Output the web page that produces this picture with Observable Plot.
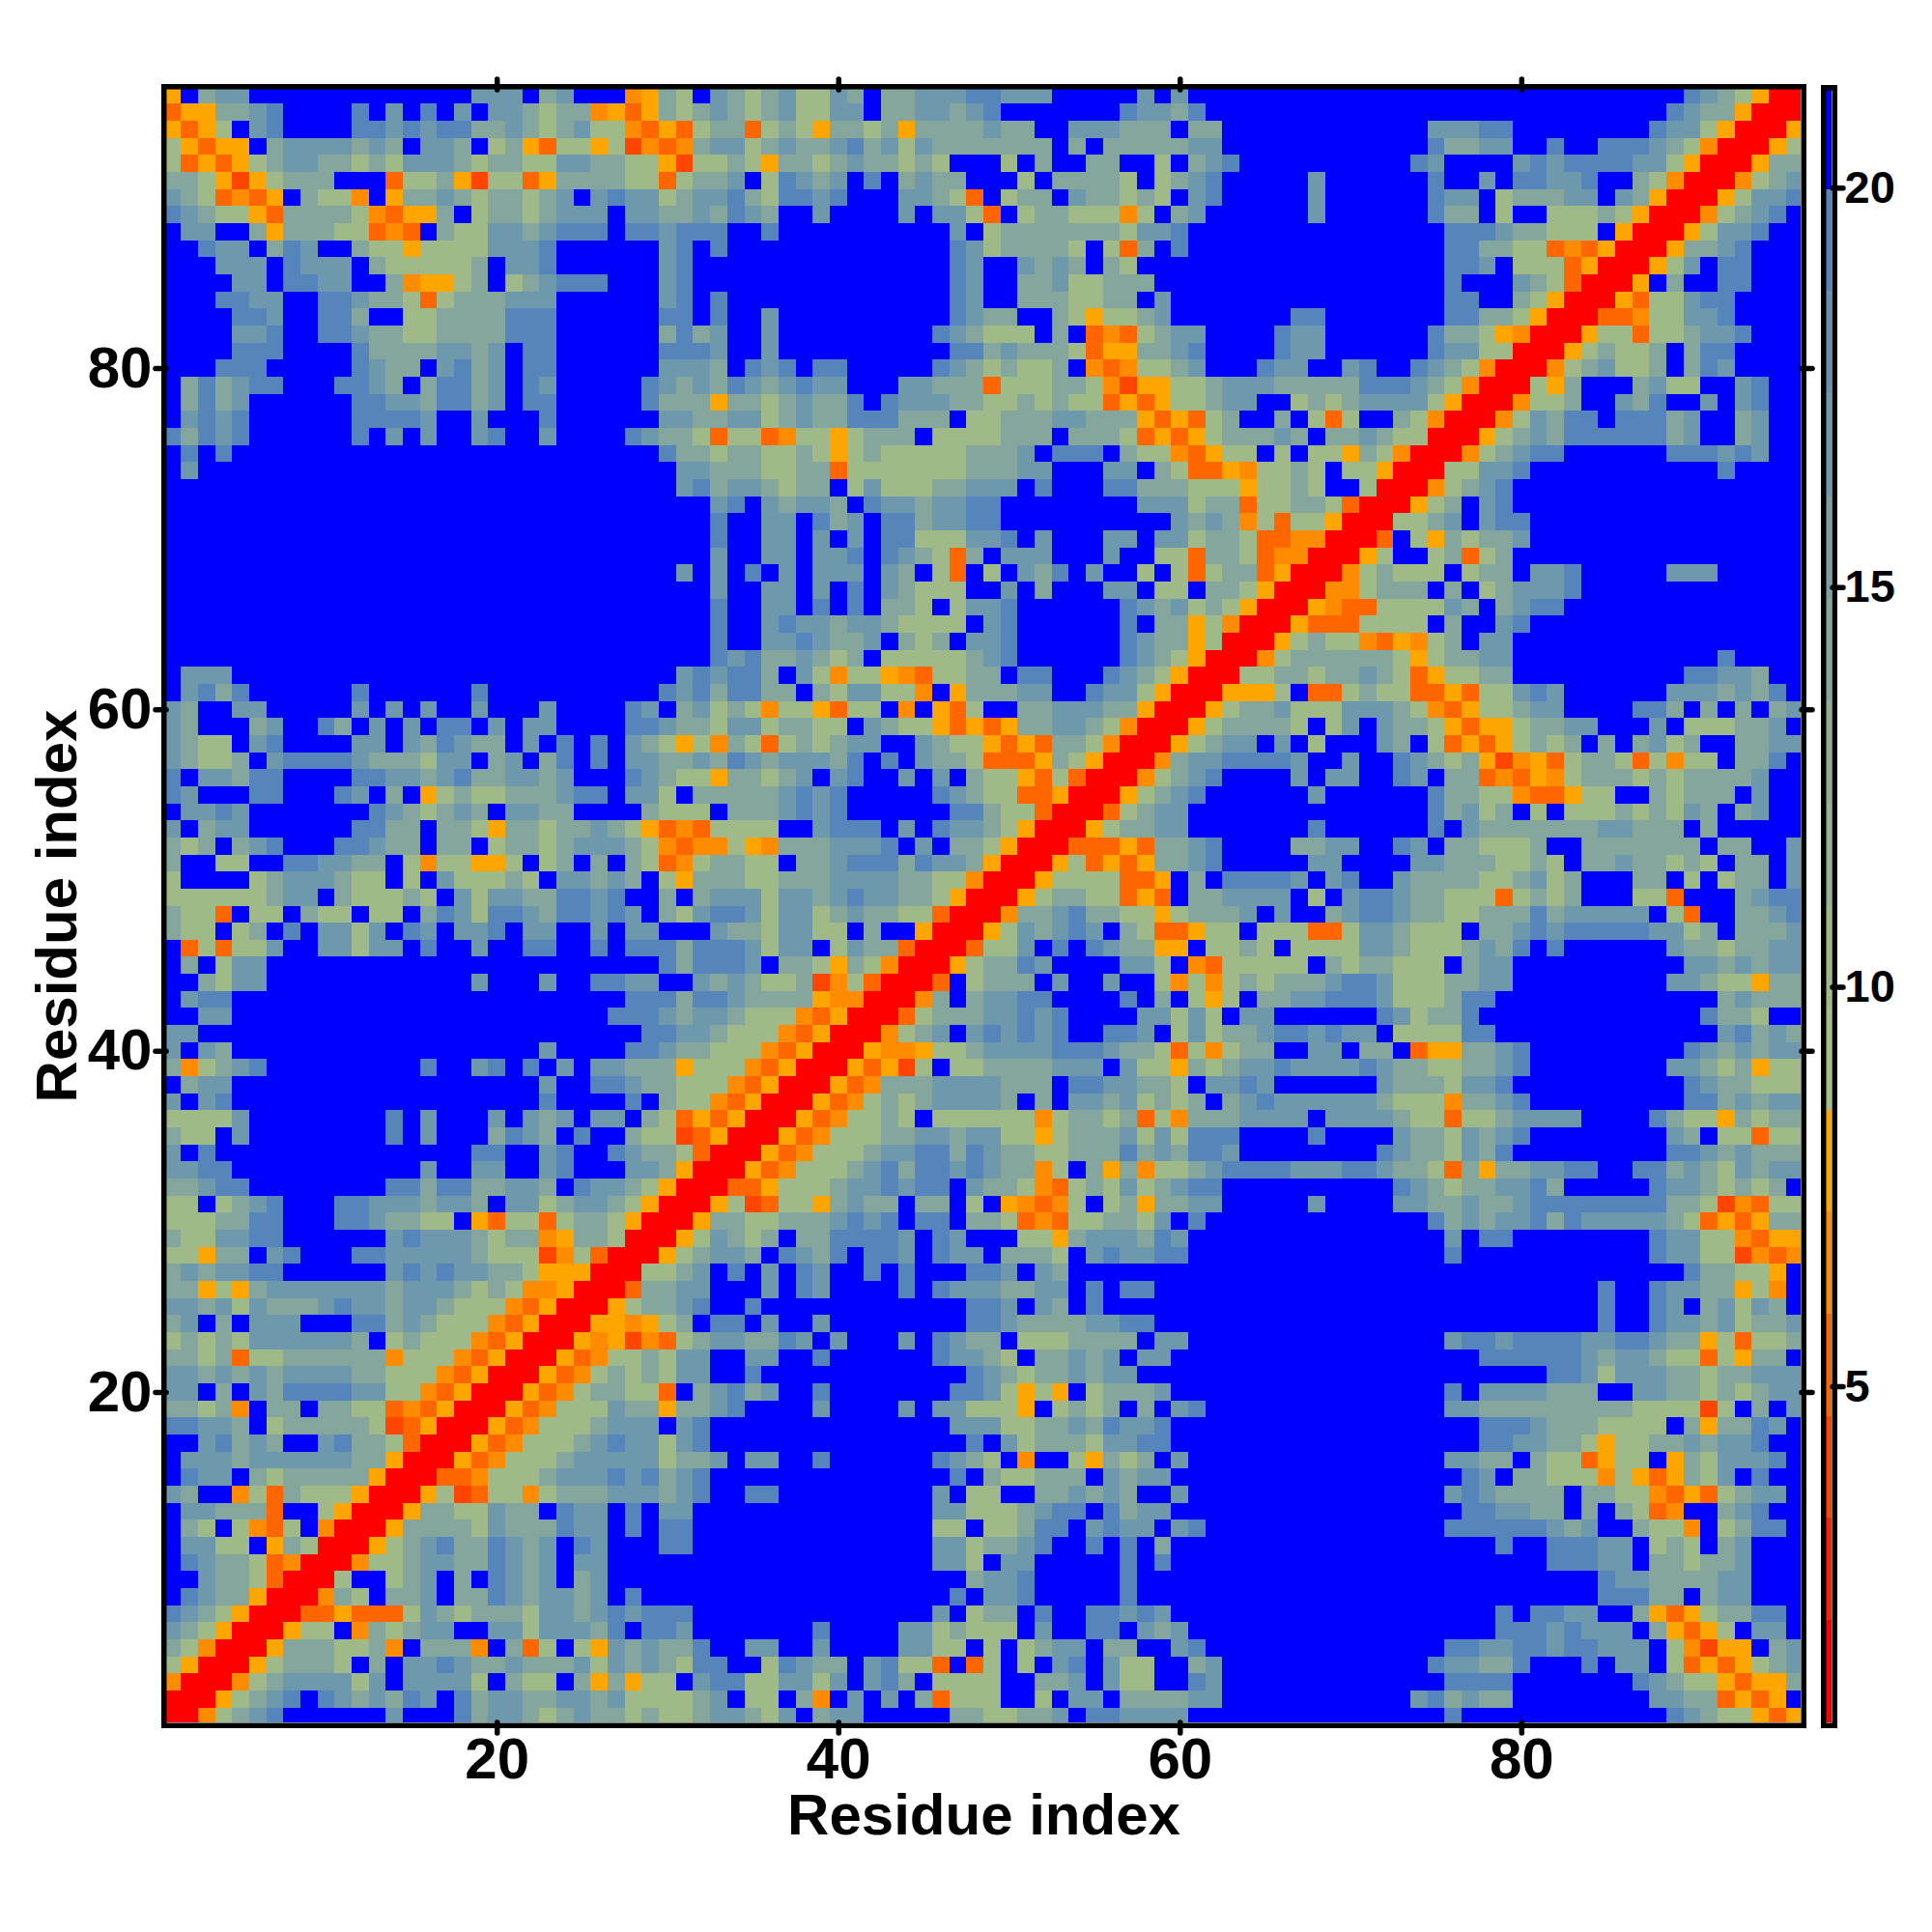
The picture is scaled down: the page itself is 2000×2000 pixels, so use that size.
<!DOCTYPE html>
<html>
<head>
<meta charset="utf-8">
<script src="https://cdn.jsdelivr.net/npm/d3@7"></script>
<script src="https://cdn.jsdelivr.net/npm/@observablehq/plot@0.6"></script>
<style>
html,body{margin:0;padding:0;background:#fff}
#wrap{position:relative;width:2000px;height:2000px}
#wrap svg{position:absolute;left:0;top:0;background:transparent;overflow:visible}
</style>
</head>
<body>
<div id="wrap"></div>
<script>
// Codes: blue gap, four slate-to-sage shades, warm shades.
const codeValues = {".":21, "1":19.3, "2":16.8, "3":13.9, "4":10.3, "o":7.8, "d":6.5, "r":5.2, "f":4, "X":1.4};
const xTicks = [20, 40, 60, 80];
const yTicks = [20, 40, 60, 80];
const barTicks = [5, 10, 15, 20];
const axisLabel = "Residue index";
const bandEdges = [0.77,2.05,3.33,4.6,5.88,7.16,8.44,9.72,11,12.28,13.56,14.84,16.12,17.4,18.68,19.96,21.2];
const colours = ["#ff0000","#ff2200","#ff4500","#ff6600","#ff8c00","#ffa500","#a5bf84","#9fba88","#97b48e","#8eae95","#84a69c","#7ba1a2","#6e98ab","#6791b1","#5685bc","#0000ff"];
// Upper-left half of the symmetric map: first string is y=96, each string starts at x=1; [n] = n blue cells.
const rows = [
"o.322[13]222.32[3]do34.2 34324423.33222 11222[5]2.2[7] [22]1234oXX",
"roo3321[4]1.2.1.2.223433doro3432 34324422.3322321[7]12231[6] [21]1233oXX",
"oro4.21[4]1121211332343244dror43 3r434o3343o3333233..222333.33[5] [7]22211[8]1224oXX",
"4oroo.32222323.223.43or44o4fdrd32 2432332132423333333.3.3333322[5] [7]13322..1..111234dXX",
"4roro432233434222343344223344of44 34o3343233434[3]4.3..33..4.321[4] [6]12[4]2121111224oXX",
"334ofo4333[3]r443of44ro333344r433 2.41232.1.3233[3]4.33334.4321[5] 2[6]1..2.11221..34dXX",
"234rdro.344d.o3323433432.21224322 1341121[3]2234r.433.233434.21[5] 2[6]122.433322.23oXX",
"12344or33334droo3.43343222.223323 123..2[4]2.224r.433444d4.32[6] 2[6]133.4..44434oXX",
".22..3o33344rdr.3442232111.112111 ..1[10]2.433333334221[7] [8]111233444.oXX",
"..122.312..344o44442221[6]21.1 [13]12433334.4r3.1[7] [8]113344rdroXX",
"...222.1222.3444443.221[6]21.. [13]12..2323.34[10] [8]112.444roXX",
"[4]22.1122..3doo43.432111[3]21.. [13]12..33244333[9] [8]1[3]234rXX",
"...1122..112334r4333222[6]21.1 [13]12..3334433.2[8] [8]11..34oXX",
"[4]112..113..443333111[6]11.1 ..2[10]1233..34o4432[7]1 1[7]11334oXX",
"[4]221..11233443333111[6]3132 ..2[9]123444.3.rdr4322[4]12 2[6]1334odXX",
"[4]111[4]133332232.11[6]1112 ..2[10]11323334roo3321[4]12 2[6]12244XX",
"[3]111[5]1233.2132.11[6]2223 .121.11[5]12343443.drd4432[3]122 ..21..1234dXX",
".313211[3]1123.31132.12[5]12323 1232122[3]22333r444334dfoo44322233 333111234dXX",
".3132[6]112231132.11[5]1333o 33432331.1222334434344roro44322..4 34322224oXX",
".2121[6]11112..2[3]1[6]2233 2243233111333.4433322333oror43..3. 4r4..34dXX",
"13121[6]1.2.2..21..2[4]12334r 44rd44o4333.4444333.3334roro433323 .332344XX",
".1.1[25]1334 334434o43444443332.111.344dro44.4. 44o34dXX",
".2[28]223 334433r444444433322...22.34rrod443 4.44oXX",
"[30]213 223433.4244433222.1[3]11333444o443 4..4XX",
"[32]2 1.23223.12232211[8]222433r443 34rXX",
"[32]1 ..22.132.1132211[10]2323d4r4 4oXX",
"[32]1 ..22.2.2.11444221.2[3]22.224334rrd dXX",
"[32]2 ..22.221.1234r3.222[3]2..44r334rdd XX",
"[30]2.2 .1.2.222.23.4r.4.231.2..4.4r433roX X",
"[32]2 ..22.2.1.23444..2.3[3]22.44.334oXX",
"[32]1 ..22.1.1.334.4221[6]1232434oXX",
"[32]1 ..212232234444.21[6]1.33o4dXX",
"[32]1 ..2212332.343.221[6]1233o4XX",
"[32]1 21332343.44444321[6]1234oXX",
".222[26]212 113.24d44odr4433.11[3]1234oXX",
".2131[6]1[6]1[10]1213 1133.342244d.o33322..1224oXX",
"23..22[5]2.2.2..2[3]2[4]12.324 34d44or44.d.or4..3322233oXX",
"23[3]32..13.2.2.11.2.22[4]112334 2243344.2344ororo332234dXX",
"2344.21[4]22.231233.2.1.1.234o4d 34r434322..2344oror334dXX",
"23443.211112333422.32.31.1.223323 12322231.1.2334rrro34oXX",
"1.22311[4]1122321332232[3]12344o 33432.21..2.2.344or4rXX",
"12[3]11[3]12.3.o4344333211.224.33 3332121[5]12344rroXX",
".2212[7]1234323.2233[4]3444. 3332121[6]11344rXX",
"2.322[6]1133.334o33433234ordr4 444..2111.2.12234oXX",
"343.321[3]11233.33.4334322234drdd 4od3332221.2.334oXX",
"3..44..112233.4d44oo4.43.3.34rd43 344.33211131223oXX",
"4[4]43222344.4.244434.22323.4o33 34433322223344dXX",
"444444322.344434.2422331121..3.32 2242232122334oXX",
"344r.44.344.44.3124112311212.3421 124224323344rXX",
"344.43.1.2242.12.221.22..2.22[3]2 3342244.3..oXX",
".r4r442..22422.1..2..11..1.111311 12422.4233rXX",
".3.422[23]1311 12.334o34dXX",
"..3422[12]2[3]2..1122..23 23443fd4rXX",
".211[23]111311 23333oddXX",
"..22[22]1112322 3444droXX",
"22[26]11223 444droXX",
"2.23[18]2[4]112334 44droXX",
"3d4321[9]1..21.1.2.22333o44 4droXX",
".322[18]2..11233444 droXX",
"2.21[18]1[4]1.344d roXX",
"44442[8]1.2[3]2.232.22.34ror oXX",
"344.2[8]1.2[3]3123.1..344fro XX",
"2.1[15]11..21..12334rX X",
"2211[11]2..22..21[3]223oXX",
"33211[8]1131133223.12234oXX",
"44.4321[3]112223223.22432234oXX",
"4443311[3]1123344.or44r4334oXX",
"3442211[6]212223433do334XX",
"44o33.21[3]11222223444fd4rXX",
"3232211[6]212122334oooXX",
"33o4o3222222232223434ddoXX",
"22324233321223223444droXX",
"32.3.222[3]11323444droXX",
"434342222223.43444droXX",
"3343r44333333d444droXX",
"2232323222233444droXX",
"22.3.2311112244droXX",
"3343d.33.3344rdroXX",
"11223.4333334froXX",
"..21323..21334rXX",
".222322222233oXX",
".122.3433333oXX",
"23..d4r3444oXX",
".22333r..4oXX",
".34.4dr4.dXX",
".2244.o34XX",
".12334rdXX",
"..2334rXX",
".1233oXX",
"1234oXX",
"234oXX",
"34dXX",
"4oXX",
"dXX",
"XX",
"X"
];

// Decode the strings and mirror across the diagonal.
const cellMap = new Map();
rows.forEach((s, i) => {
  const y = 96 - i;
  const row = s.replace(/\s/g, "").replace(/\[(\d+)\]/g, (_, n) => ".".repeat(+n));
  [...row].forEach((c, k) => {
    const x = k + 1;
    if (x > y) return;
    const v = codeValues[c] ?? 21;
    cellMap.set(x + "," + y, v);
    cellMap.set(y + "," + x, v);
  });
});
const cells = [];
for (let x = 1; x <= 96; x++) for (let y = 1; y <= 96; y++)
  cells.push({x, y, v: cellMap.get(x + "," + y) ?? 21});

const thresholds = bandEdges.slice(1, -1);
const bands = bandEdges.slice(0, -1).map((lo, i) => ({lo, hi: bandEdges[i + 1], v: (lo + bandEdges[i + 1]) / 2}));
const font = {fontFamily: "'Liberation Sans', Arial, sans-serif", fontWeight: "bold"};
const colorScale = {type: "threshold", domain: thresholds, range: colours};

const tickStyle = {tickSize: 11, strokeWidth: 5.5, strokeLinecap: "round"};
const main = Plot.plot({
  width: 2000, height: 2000,
  marginLeft: 172, marginRight: 136, marginTop: 92, marginBottom: 217,
  x: {domain: [0.64, 96.36]},
  y: {domain: [0.64, 96.36]},
  color: colorScale,
  style: {background: "transparent", ...font},
  marks: [
    Plot.rect(cells, {x1: d => d.x - .5, x2: d => d.x + .5, y1: d => d.y - .5, y2: d => d.y + .5, fill: "v", clip: true, shapeRendering: "crispEdges"}),
    Plot.frame({stroke: "#000", strokeWidth: 5.5, inset: -2.75}),
    Plot.axisX({anchor: "bottom", ticks: xTicks, ...tickStyle, tickPadding: 4, fontSize: 60, fontWeight: "bold", label: axisLabel, labelAnchor: "center", labelArrow: "none", labelOffset: 115}),
    Plot.axisY({anchor: "left", ticks: yTicks, ...tickStyle, tickPadding: 4, fontSize: 60, fontWeight: "bold", label: axisLabel, labelAnchor: "center", labelArrow: "none", labelOffset: 136}),
    Plot.axisX({anchor: "top", ticks: xTicks, ...tickStyle, tickFormat: () => "", label: null}),
    Plot.axisY({anchor: "right", ticks: yTicks, ...tickStyle, tickFormat: () => "", label: null})
  ]
});
const bar = Plot.plot({
  width: 2000, height: 2000,
  marginLeft: 1890, marginRight: 104, marginTop: 93, marginBottom: 217,
  y: {domain: [bandEdges[0], bandEdges[bandEdges.length - 1]]},
  color: colorScale,
  style: {background: "transparent", ...font},
  marks: [
    Plot.rect(bands, {y1: "lo", y2: "hi", fill: "v", shapeRendering: "crispEdges"}),
    Plot.frame({stroke: "#000", strokeWidth: 5.5, inset: -2.75}),
    Plot.axisY({anchor: "right", ticks: barTicks, ...tickStyle, tickPadding: 2, dy: 2, fontSize: 47, fontWeight: "bold", label: null})
  ]
});
document.getElementById("wrap").append(main, bar);
</script>
</body>
</html>
